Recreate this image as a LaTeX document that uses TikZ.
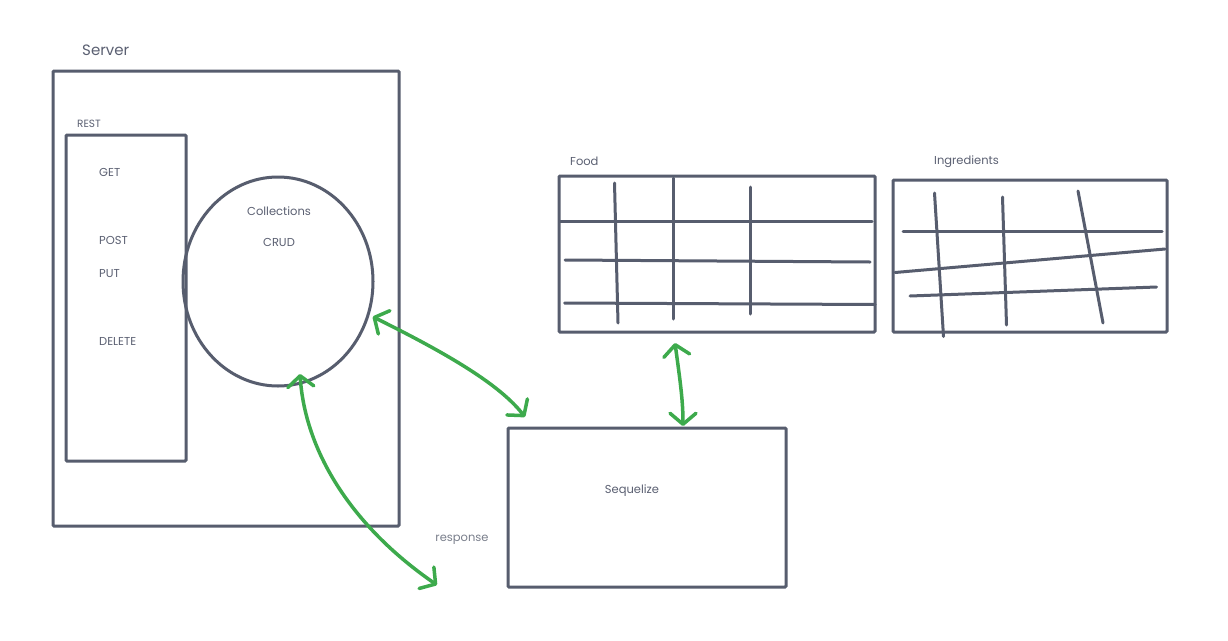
\documentclass[tikz,border=0pt]{standalone}
\usepackage{fontspec}
\setmainfont{Poppins}
\usetikzlibrary{shapes.geometric,arrows.meta}
\definecolor{ink}{HTML}{575D6E}
\definecolor{grn}{HTML}{3DAA4C}
\definecolor{txt}{HTML}{5B6072}
\definecolor{ltxt}{HTML}{7A7F8C}
\begin{document}
\begin{tikzpicture}[x=1pt,y=-1pt,
  box/.style={draw=ink, line width=3pt, rounded corners=1pt, inner sep=0pt, outer sep=0pt},
  oval/.style={ellipse, draw=ink, line width=3pt, inner sep=0pt, outer sep=0pt},
  lbl/.style={text=txt, font=\fontsize{11.5}{13}\selectfont, inner sep=0pt, yshift=-1.5pt},
  grid/.style={draw=ink, line width=3pt, line cap=round},
  link/.style={draw=grn, line width=3.5pt, line cap=round,
    {Straight Barb[length=11pt,width=26pt,round]}-{Straight Barb[length=11pt,width=26pt,round]}}]
\fill[white] (0,0) rectangle (1228,640);
\useasboundingbox (0,0) rectangle (1228,640);

% boxes
\node[box, minimum width=346pt, minimum height=455pt] (server) at (226,298.5) {};
\node[box, minimum width=120pt, minimum height=326pt] (rest) at (126,298) {};
\node[oval, minimum width=190pt, minimum height=209pt] (coll) at (278,281.5) {};
\node[box, minimum width=316pt, minimum height=156pt] (food) at (717,254) {};
\node[box, minimum width=274pt, minimum height=152pt] (ingr) at (1030,256) {};
\node[box, minimum width=278pt, minimum height=159pt] (seq) at (647,507.5) {};

% labels
\node[lbl, anchor=west, font=\fontsize{15}{17}\selectfont] (tserver) at (82,49) {Server};
\node[lbl, anchor=west, font=\fontsize{10.5}{12}\selectfont] (trest) at (77,122) {REST};
\node[lbl, anchor=west] (tget) at (99,171) {GET};
\node[lbl, anchor=west] (tpost) at (99,239) {POST};
\node[lbl, anchor=west] (tput) at (99,272) {PUT};
\node[lbl, anchor=west] (tdel) at (99,340) {DELETE};
\node[lbl] (tcoll) at (279,210) {Collections};
\node[lbl] (tcrud) at (279,241) {CRUD};
\node[lbl, anchor=west] (tfood) at (570,160) {Food};
\node[lbl, anchor=west] (tingr) at (934,160) {Ingredients};
\node[lbl] (tseq) at (632,489) {Sequelize};
\node[lbl, text=ltxt] (tresp) at (462,538) {response};

% Food table grid
\draw[grid] (614.5,183) -- (618,323);
\draw[grid] (673,178) -- (673,319);
\draw[grid] (750,187) -- (750,314);
\draw[grid] (560,221.5) -- (872,221.5);
\draw[grid] (565,260) -- (870,262);
\draw[grid] (564.5,303) -- (875,304.5);

% Ingredients table grid
\draw[grid] (934.5,193) -- (943.5,336.5);
\draw[grid] (1002.5,197) -- (1006.5,325);
\draw[grid] (1078,191) -- (1103,323);
\draw[grid] (903,231) -- (1162,231);
\draw[grid] (895,272.5) -- (1165,249);
\draw[grid] (910,296) -- (1156.5,287);

% connector endpoints
\coordinate (c1a) at (372.7,316.7);
\coordinate (c1b) at (525,417);
\coordinate (c2a) at (300,374);
\coordinate (c2b) at (437,585);
\coordinate (c3a) at (675,343);
\coordinate (c3b) at (683,426);

% connectors
\draw[link] (c1a) .. controls (450,355) and (500,385) .. (c1b);
\draw[link] (c2a) .. controls (305,450) and (350,525) .. (c2b);
\draw[link] (c3a) .. controls (680,380) and (683,400) .. (c3b);
\end{tikzpicture}
\end{document}
